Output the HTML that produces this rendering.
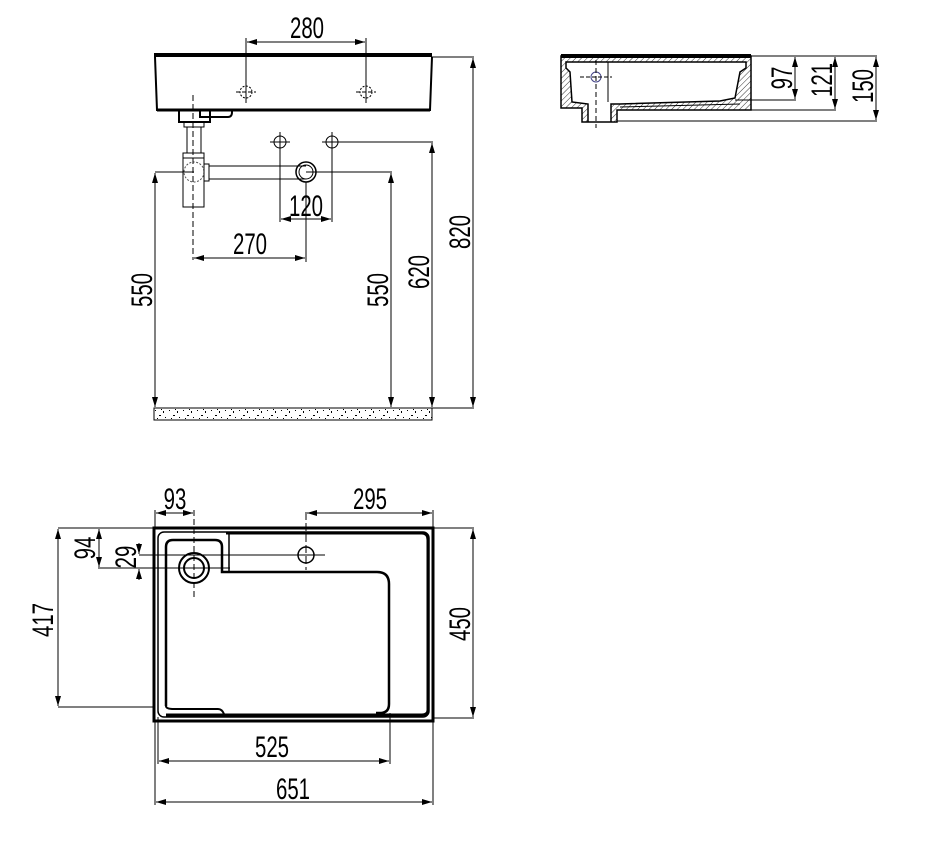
<!DOCTYPE html>
<html><head><meta charset="utf-8"><style>
html,body{margin:0;padding:0;background:#fff;}
svg{display:block;}
text{font-family:"Liberation Sans",sans-serif;font-size:30px;fill:#000;}
</style></head><body>
<svg width="940" height="846" viewBox="0 0 940 846" xmlns="http://www.w3.org/2000/svg">
<defs>
<marker id="a" viewBox="0 0 10 6" refX="10" refY="3" markerWidth="10" markerHeight="6" orient="auto-start-reverse" markerUnits="userSpaceOnUse"><path d="M0,0 L10,3 L0,6 z" fill="#000"/></marker>
<pattern id="h" width="4" height="4" patternUnits="userSpaceOnUse" patternTransform="rotate(45)"><line x1="0" y1="0" x2="0" y2="4" stroke="#000" stroke-width="0.8"/></pattern>
<pattern id="sp" width="14" height="12" patternUnits="userSpaceOnUse"><rect x="1" y="2" width="1" height="1" fill="#000"/><rect x="5" y="7" width="2" height="1" fill="#000"/><rect x="9" y="3" width="1" height="2" fill="#000"/><rect x="11" y="9" width="1" height="1" fill="#000"/><rect x="3" y="10" width="1" height="1" fill="#000"/><rect x="7" y="1" width="1" height="1" fill="#000"/></pattern>
</defs>
<g fill="none" stroke="#000" stroke-width="1">
<!-- FRONT VIEW -->
<path d="M154,55 L432,55" stroke-width="4"/>
<path d="M155,57 L157,110 L430,110 L432,57" stroke-width="2"/>
<path d="M157,110 L430,110" stroke-width="3"/>
<path d="M179,110 L179,122 L210,122 L210,110 M200,110 L200,117 L228,117 Q232,117 232,112 L232,110" stroke-width="2"/>
<rect x="184" y="122" width="20" height="5"/>
<line x1="187" y1="127" x2="187" y2="153"/><line x1="201" y1="127" x2="201" y2="153"/>
<rect x="183" y="153" width="21" height="54"/>
<line x1="183" y1="158" x2="204" y2="158"/>
<circle cx="194" cy="172" r="10" stroke-dasharray="2,1.5" stroke="#555"/>
<rect x="204" y="164" width="5" height="17"/>
<line x1="209" y1="166" x2="306" y2="166"/><line x1="209" y1="179" x2="306" y2="179"/>
<circle cx="306" cy="172" r="10" stroke-width="1.5"/><circle cx="306" cy="172" r="7"/>
<line x1="193" y1="95" x2="193" y2="260" stroke-dasharray="6,3"/>
<circle cx="246" cy="92" r="6" stroke-dasharray="2,1.5"/><line x1="236" y1="92" x2="256" y2="92" stroke-dasharray="4,2"/>
<circle cx="366" cy="92" r="6" stroke-dasharray="2,1.5"/><line x1="356" y1="92" x2="376" y2="92" stroke-dasharray="4,2"/>
<line x1="246" y1="38" x2="246" y2="103"/><line x1="366" y1="38" x2="366" y2="103"/>
<line x1="247" y1="42" x2="365" y2="42" marker-start="url(#a)" marker-end="url(#a)"/>
<circle cx="280" cy="142" r="6"/><line x1="270" y1="142" x2="290" y2="142"/>
<circle cx="332" cy="142" r="6"/><line x1="322" y1="142" x2="342" y2="142"/>
<line x1="280" y1="132" x2="280" y2="222"/><line x1="332" y1="132" x2="332" y2="222"/>
<line x1="281" y1="219" x2="331" y2="219" marker-start="url(#a)" marker-end="url(#a)"/>
<line x1="306" y1="182" x2="306" y2="262"/>
<line x1="194" y1="258" x2="305" y2="258" marker-start="url(#a)" marker-end="url(#a)"/>
<line x1="155" y1="172" x2="194" y2="172"/>
<line x1="155" y1="173" x2="155" y2="407" marker-start="url(#a)" marker-end="url(#a)"/>
<line x1="306" y1="172" x2="392" y2="172"/>
<line x1="391" y1="173" x2="391" y2="407" marker-start="url(#a)" marker-end="url(#a)"/>
<line x1="332" y1="142" x2="433" y2="142"/>
<line x1="432" y1="143" x2="432" y2="407" marker-start="url(#a)" marker-end="url(#a)"/>
<line x1="432" y1="57" x2="474" y2="57"/>
<line x1="473" y1="58" x2="473" y2="407" marker-start="url(#a)" marker-end="url(#a)"/>
<line x1="432" y1="408" x2="474" y2="408"/>
<rect x="154" y="408" width="278" height="12" fill="url(#sp)"/>
<!-- SIDE VIEW -->
<path fill-rule="evenodd" fill="url(#h)" stroke-width="1.5" d="M561,56 L751,56 L751,110 L617,110 L617,122 L582,122 L582,108 L561,108 Z M566,62 L746,62 L746,68 L740,72 L735,98 L720,101 L620,104 L611,104 L611,122 L588,122 L588,104 L572,102 L570,72 L566,68 Z"/>
<path d="M620,107 L740,104" />
<line x1="561" y1="56" x2="751" y2="56" stroke-width="4"/>
<line x1="566" y1="62" x2="746" y2="62"/>
<line x1="608" y1="62" x2="608" y2="102"/>
<circle cx="596" cy="77" r="5" stroke="#448"/>
<line x1="580" y1="77" x2="612" y2="77" stroke-dasharray="4,2"/>
<line x1="596" y1="60" x2="596" y2="128" stroke-dasharray="5,3"/>
<line x1="751" y1="56" x2="877" y2="56"/>
<line x1="735" y1="100" x2="796" y2="100"/>
<line x1="751" y1="110" x2="836" y2="110"/>
<line x1="617" y1="121" x2="877" y2="121"/>
<line x1="795" y1="57" x2="795" y2="99" marker-start="url(#a)" marker-end="url(#a)"/>
<line x1="835" y1="57" x2="835" y2="109" marker-start="url(#a)" marker-end="url(#a)"/>
<line x1="876" y1="57" x2="876" y2="120" marker-start="url(#a)" marker-end="url(#a)"/>
<!-- PLAN VIEW -->
<rect x="154" y="528" width="279" height="193" stroke-width="3"/>
<rect x="158" y="532" width="271" height="185" rx="6" stroke-width="1.5"/>
<path d="M226,533 L422,533 Q428,533 428,540 L428,710 Q428,715 422,715 L166,715" stroke-width="3"/>
<path d="M166,706 L166,547 Q166,540 173,540 L215,540 Q222,540 222,547 L222,572 L377,572 Q389,572 389,584 L389,704 Q389,713 380,713 L376,713" stroke-width="2.5"/>
<path d="M229,533 L229,572" stroke-width="1.5"/>
<path d="M166,706 Q166,709 174,709 L218,709 Q222,709 224,714" stroke-width="2"/>
<circle cx="194" cy="568" r="15" stroke-width="2"/><circle cx="194" cy="568" r="10" stroke-width="2"/>
<circle cx="306" cy="555" r="8" stroke-width="1.5"/>
<line x1="194" y1="510" x2="194" y2="600" stroke-dasharray="6,3"/>
<line x1="306" y1="512" x2="306" y2="570" stroke-dasharray="8,3"/>
<line x1="139" y1="555" x2="325" y2="555"/>
<line x1="98" y1="568" x2="230" y2="568"/>
<line x1="155" y1="510" x2="155" y2="528"/><line x1="433" y1="510" x2="433" y2="528"/>
<line x1="156" y1="513" x2="193" y2="513" marker-start="url(#a)" marker-end="url(#a)"/>
<line x1="307" y1="513" x2="432" y2="513" marker-start="url(#a)" marker-end="url(#a)"/>
<line x1="58" y1="528" x2="154" y2="528"/>
<line x1="99" y1="529" x2="99" y2="567" marker-start="url(#a)" marker-end="url(#a)"/>
<line x1="139" y1="543" x2="139" y2="554" marker-end="url(#a)"/>
<line x1="139" y1="580" x2="139" y2="569" marker-end="url(#a)"/>
<line x1="58" y1="707" x2="154" y2="707"/>
<line x1="58" y1="529" x2="58" y2="706" marker-start="url(#a)" marker-end="url(#a)"/>
<line x1="433" y1="528" x2="474" y2="528"/><line x1="433" y1="718" x2="474" y2="718"/>
<line x1="473" y1="529" x2="473" y2="717" marker-start="url(#a)" marker-end="url(#a)"/>
<line x1="155" y1="721" x2="155" y2="805"/><line x1="433" y1="721" x2="433" y2="805"/>
<line x1="158" y1="717" x2="158" y2="764"/><line x1="390" y1="713" x2="390" y2="764"/>
<line x1="159" y1="761" x2="389" y2="761" marker-start="url(#a)" marker-end="url(#a)"/>
<line x1="156" y1="802" x2="432" y2="802" marker-start="url(#a)" marker-end="url(#a)"/>
</g>
<g text-anchor="middle">
<text transform="translate(307,38) scale(0.68,1)">280</text>
<text transform="translate(306,216) scale(0.68,1)">120</text>
<text transform="translate(250,254) scale(0.68,1)">270</text>
<text transform="translate(152,290) rotate(-90) scale(0.68,1)">550</text>
<text transform="translate(388,290) rotate(-90) scale(0.68,1)">550</text>
<text transform="translate(429,272) rotate(-90) scale(0.68,1)">620</text>
<text transform="translate(470,232) rotate(-90) scale(0.68,1)">820</text>
<text transform="translate(792,78) rotate(-90) scale(0.68,1)">97</text>
<text transform="translate(832,80) rotate(-90) scale(0.68,1)">121</text>
<text transform="translate(873,86) rotate(-90) scale(0.68,1)">150</text>
<text transform="translate(175,509) scale(0.68,1)">93</text>
<text transform="translate(370,509) scale(0.68,1)">295</text>
<text transform="translate(95,548) rotate(-90) scale(0.68,1)">94</text>
<text transform="translate(136,557) rotate(-90) scale(0.68,1)">29</text>
<text transform="translate(53,620) rotate(-90) scale(0.68,1)">417</text>
<text transform="translate(470,624) rotate(-90) scale(0.68,1)">450</text>
<text transform="translate(272,757) scale(0.68,1)">525</text>
<text transform="translate(293,799) scale(0.68,1)">651</text>
</g>
</svg>
</body></html>
